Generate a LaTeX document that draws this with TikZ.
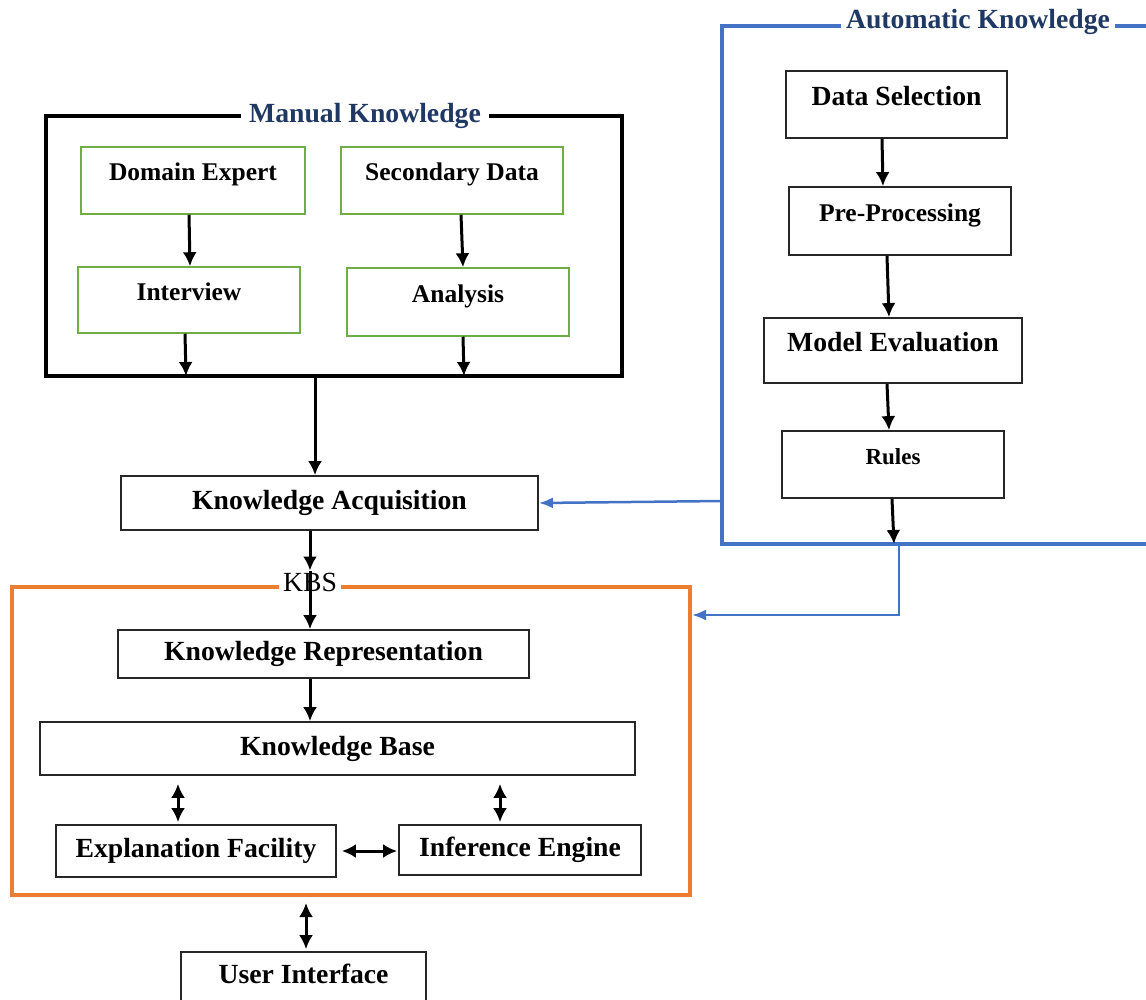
\documentclass[tikz,border=0pt]{standalone}
\usepackage{fontspec}
\setmainfont{Liberation Serif}
\usetikzlibrary{arrows.meta}
\definecolor{kgreen}{HTML}{70AD47}
\definecolor{korange}{HTML}{ED7D31}
\definecolor{kblue}{HTML}{4472C4}
\definecolor{knavy}{HTML}{1F3864}
\definecolor{boxline}{HTML}{262626}
\begin{document}
\begin{tikzpicture}[x=1pt,y=-1pt,
  fs/.style={font=\bfseries\fontsize{#1}{#1}\selectfont},
  bbox/.style={draw=boxline, line width=1.8pt, inner sep=0pt, text height=19pt, text depth=6pt, fs=27.7},
  raised/.style={text depth=17pt},
  gbox/.style={bbox, draw=kgreen, line width=1.5pt, fs=25.5, text depth=19pt},
  frame/.style={line width=4pt, inner sep=0pt, outer sep=0pt},
  ttl/.style={fill=white, text=knavy, inner xsep=8pt, inner ysep=2pt, text height=19pt, text depth=6pt, fs=27.7},
  arr/.style={line width=3pt, -{Latex[length=14pt,width=14pt]}},
  darr/.style={line width=3pt, {Latex[length=14pt,width=14pt]}-{Latex[length=14pt,width=14pt]}},
  barr/.style={draw=kblue, line width=2.5pt, -{Latex[length=14pt,width=11pt]}}
]
\useasboundingbox (0,0) rectangle (1146,999);
\clip (0,0) rectangle (1146,999);

% Manual Knowledge frame
\node[frame, draw=black, minimum width=576pt, minimum height=260pt] (man) at (334,246) {};
\node[ttl] (mt) at (365,116) {Manual Knowledge};
\node[gbox, minimum width=224pt, minimum height=67pt] (de) at (193,180.5) {Domain Expert};
\node[gbox, minimum width=222pt, minimum height=67pt] (sd) at (452,180.5) {Secondary Data};
\node[gbox, minimum width=222pt, minimum height=66pt] (int) at (189,300) {Interview};
\node[gbox, minimum width=222pt, minimum height=68pt] (an) at (458,302) {Analysis};

% Automatic Knowledge frame
\draw[kblue, line width=4pt] (1150,26) -- (722,26) -- (722,544) -- (1150,544);
\node[ttl, inner xsep=5pt] (at) at (978,22) {Automatic Knowledge};
\node[bbox, raised, minimum width=221pt, minimum height=67pt] (ds) at (896.5,104.5) {Data Selection};
\node[bbox, gbox, draw=boxline, line width=1.8pt, minimum width=222pt, minimum height=68pt] (pp) at (900,221) {Pre-Processing};
\node[bbox, raised, minimum width=258pt, minimum height=65pt] (me) at (893,350.5) {Model Evaluation};
\node[bbox, fs=23, text depth=19pt, minimum width=222pt, minimum height=67pt] (ru) at (893,464.5) {Rules};
\coordinate (aw) at (722,501);
\coordinate (ab) at (899,544);
\coordinate (kin) at (692,615);

% Knowledge Acquisition
\node[bbox, minimum width=417pt, minimum height=54pt] (ka) at (329.5,503) {Knowledge Acquisition};

% KBS frame
\node[frame, draw=korange, minimum width=678pt, minimum height=308pt] (kbsbox) at (351,741) {};
\node[fill=white, inner xsep=4pt, inner ysep=2pt, font=\fontsize{27.7}{28}\selectfont] (kbs) at (310,582) {KBS};
\node[bbox, minimum width=411pt, minimum height=48pt] (kr) at (323.5,654) {Knowledge Representation};
\node[bbox, minimum width=595pt, minimum height=53pt] (kb) at (337.5,748.5) {Knowledge Base};
\node[bbox, minimum width=280pt, minimum height=52pt] (ef) at (196,851) {Explanation Facility};
\node[bbox, minimum width=242pt, minimum height=50pt] (ie) at (520,850) {Inference Engine};
\node[bbox, minimum width=245pt, minimum height=50pt] (ui) at (303.5,977) {User Interface};

% arrows: manual
\draw[arr] ([xshift=-4pt]de.south) -- ([xshift=1pt]int.north);
\draw[arr] ([xshift=9pt]sd.south) -- ([xshift=5pt]an.north);
\draw[arr] ([xshift=-4pt]int.south) -- ([xshift=-3pt]int.south |- man.south);
\draw[arr] ([xshift=5pt]an.south) -- ([xshift=6pt]an.south |- man.south);
\draw[arr] ([xshift=-19pt]man.south) -- ([xshift=-19pt]man.south |- ka.north);

% arrows: automatic
\draw[arr] ([xshift=-14.5pt]ds.south) -- ([xshift=-17pt]pp.north);
\draw[arr] ([xshift=-13pt]pp.south) -- ([xshift=-4pt]me.north);
\draw[arr] ([xshift=-6pt]me.south) -- ([xshift=-4pt]ru.north);
\draw[arr] ([xshift=-1pt]ru.south) -- ([xshift=1pt]ru.south |- ab);
\draw[barr] (aw) -- (ka.east);
\draw[barr] (ab) |- (kin);

% arrows: KBS
\draw[arr] (kbs.north |- ka.south) -- (kbs.north);
\draw[arr] (kbs.north) -- (kbs.north |- kr.north);
\draw[arr] (kbs.north |- kr.south) -- (kbs.north |- kb.north);
\draw[darr, shorten <=8pt, shorten >=2pt] ([xshift=-18pt]ef.north |- kb.south) -- ([xshift=-18pt]ef.north);
\draw[darr, shorten <=8pt, shorten >=2pt] ([xshift=-20pt]ie.north |- kb.south) -- ([xshift=-20pt]ie.north);
\draw[darr, shorten <=5pt, shorten >=1pt] (ef.east) -- (ef.east -| ie.west);
\draw[darr, shorten <=8pt, shorten >=2pt] ([xshift=2.5pt]ui.north |- kbsbox.south) -- ([xshift=2.5pt]ui.north);
\end{tikzpicture}
\end{document}
